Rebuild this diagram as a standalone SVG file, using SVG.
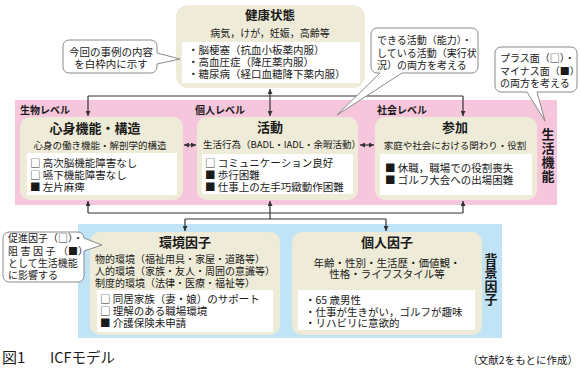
<svg xmlns="http://www.w3.org/2000/svg" width="580" height="373" viewBox="0 0 580 373">
<defs>
<style>
text{font-family:"Noto Sans CJK JP","Noto Sans",sans-serif;fill:#1a1a1a;}
.band-p{fill:#f6c7dc;}
.band-b{fill:#c0e3f5;}
.box{fill:#eeecd8;}
.wbox{fill:#ffffff;}
.title{font-size:13px;font-weight:bold;text-anchor:middle;}
.sub{font-size:9.5px;}
.item{font-size:10.5px;}
.lvl{font-size:10px;font-weight:bold;}
.vert{font-size:13px;font-weight:bold;writing-mode:vertical-rl;}
.call{fill:#fff;stroke:#8a8a8a;stroke-width:1;}
.ctext{font-size:10px;}
.conn{fill:none;stroke:#333;stroke-width:1.2;}
.mid{text-anchor:middle;}
</style>
<marker id="ah" viewBox="0 0 6 6" refX="6" refY="3" markerWidth="5" markerHeight="5" markerUnits="userSpaceOnUse" orient="auto-start-reverse">
<path d="M0,0 L6,3 L0,6 z" fill="#333"/>
</marker>
</defs>
<rect width="580" height="373" fill="#fff"/>

<!-- bands -->
<rect class="band-p" x="15" y="100" width="542" height="105"/>
<rect class="band-b" x="78" y="224" width="424" height="114"/>

<!-- level labels -->
<text class="lvl" x="20" y="114">生物レベル</text>
<text class="lvl" x="195" y="114">個人レベル</text>
<text class="lvl" x="377" y="114">社会レベル</text>

<!-- connectors -->
<g id="connectors">
<path class="conn" d="M88,96 H463"/>
<path class="conn" d="M88,96 V116" marker-end="url(#ah)"/>
<path class="conn" d="M463,96 V116" marker-end="url(#ah)"/>
<path class="conn" d="M270,89 V116" marker-start="url(#ah)" marker-end="url(#ah)"/>
<path class="conn" d="M184,145 H196" marker-start="url(#ah)" marker-end="url(#ah)"/>
<path class="conn" d="M360,145 H374" marker-start="url(#ah)" marker-end="url(#ah)"/>
<path class="conn" d="M88,213 H463"/>
<path class="conn" d="M88,213 V201" marker-end="url(#ah)"/>
<path class="conn" d="M463,213 V201" marker-end="url(#ah)"/>
<path class="conn" d="M270,219 V201" marker-end="url(#ah)"/>
<path class="conn" d="M185,219 H386"/>
<path class="conn" d="M185,219 V231" marker-end="url(#ah)"/>
<path class="conn" d="M386,219 V231" marker-end="url(#ah)"/>
</g>

<!-- health -->
<g id="health">
<rect class="box" x="176" y="5" width="189" height="83" rx="12"/>
<rect class="wbox" x="182" y="42" width="178" height="41"/>
<text class="title" x="270" y="19.5" style="font-size:12.5px">健康状態</text>
<text class="sub mid" x="270" y="37" style="font-size:10px">病気，けが，妊娠，高齢等</text>
<text class="item" x="188" y="54"><tspan x="188" y="54">・脳梗塞（抗血小板薬内服）</tspan><tspan x="188" y="66">・高血圧症（降圧薬内服）</tspan><tspan x="188" y="78">・糖尿病（経口血糖降下薬内服）</tspan></text>
</g>

<!-- body function -->
<g id="body">
<rect class="box" x="20" y="117" width="163" height="83" rx="10"/>
<rect class="wbox" x="27" y="153" width="150" height="42"/>
<text class="title" x="95" y="132.5">心身機能・構造</text>
<text class="sub mid" x="100" y="148.5">心身の働き機能・解剖学的構造</text>
<text class="item" x="30" y="167"><tspan x="30" y="167">□ 高次脳機能障害なし</tspan><tspan x="30" y="179">□ 嚥下機能障害なし</tspan><tspan x="30" y="191">■ 左片麻痺</tspan></text>
</g>

<!-- activity -->
<g id="activity">
<rect class="box" x="197" y="117" width="161" height="83" rx="10"/>
<rect class="wbox" x="202" y="154" width="151" height="40"/>
<text class="title" x="270" y="131.5">活動</text>
<text class="sub" x="203" y="147.5">生活行為（BADL・IADL・余暇活動）</text>
<text class="item" x="205" y="167"><tspan x="205" y="167">□ コミュニケーション良好</tspan><tspan x="205" y="179">■ 歩行困難</tspan><tspan x="205" y="191">■ 仕事上の左手巧緻動作困難</tspan></text>
</g>

<!-- participation -->
<g id="participation">
<rect class="box" x="375" y="117" width="162" height="83" rx="10"/>
<rect class="wbox" x="380" y="154" width="152" height="41"/>
<text class="title" x="455" y="132">参加</text>
<text class="sub mid" x="455" y="148.5">家庭や社会における関わり・役割</text>
<text class="item" x="385" y="172"><tspan x="385" y="172">■ 休職，職場での役割喪失</tspan><tspan x="385" y="184">■ ゴルフ大会への出場困難</tspan></text>
</g>

<!-- environment -->
<g id="environment">
<rect class="box" x="90" y="232" width="190" height="103" rx="10"/>
<rect class="wbox" x="97" y="290" width="176" height="42"/>
<text class="title" x="185" y="247">環境因子</text>
<text class="ctext" x="95" y="262.5"><tspan x="95" y="262.5">物的環境（福祉用具・家屋・道路等）</tspan><tspan x="95" y="275">人的環境（家族・友人・周囲の意識等）</tspan><tspan x="95" y="286.5">制度的環境（法律・医療・福祉等）</tspan></text>
<text class="item" x="100" y="303"><tspan x="100" y="303">□ 同居家族（妻・娘）のサポート</tspan><tspan x="100" y="315">□ 理解のある職場環境</tspan><tspan x="100" y="327">■ 介護保険未申請</tspan></text>
</g>

<!-- personal -->
<g id="personal">
<rect class="box" x="292" y="232" width="190" height="103" rx="10"/>
<rect class="wbox" x="298" y="290" width="177" height="40"/>
<text class="title" x="387" y="247">個人因子</text>
<text class="ctext mid" x="387" y="266.5" style="font-size:10.5px"><tspan x="387" y="266.5">年齢・性別・生活歴・価値観・</tspan><tspan x="387" y="277.5">性格・ライフスタイル等</tspan></text>
<text class="item" x="305" y="304"><tspan x="305" y="304">・65 歳男性</tspan><tspan x="305" y="316">・仕事が生きがい，ゴルフが趣味</tspan><tspan x="305" y="327">・リハビリに意欲的</tspan></text>
</g>

<!-- vertical labels -->
<text id="label-seikatsu" class="vert" x="548" y="127.5" style="letter-spacing:1px">生活機能</text>
<text id="label-haikei" class="vert" x="491" y="252.5" style="letter-spacing:0.5px">背景因子</text>

<!-- callouts -->
<g id="callout-frame">
<path class="call" d="M69,40 H151 A6,6 0 0 1 157,46 V53 L180,59 L157,64 V67 A6,6 0 0 1 151,73 H69 A6,6 0 0 1 63,67 V46 A6,6 0 0 1 69,40 Z"/>
<text class="ctext mid" x="111" y="56" style="font-size:10.5px"><tspan x="111" y="56">今回の事例の内容</tspan><tspan x="111" y="67.5">を白枠内に示す</tspan></text>
</g>
<g id="callout-activity">
<path class="call" d="M377,28 H472 A6,6 0 0 1 478,34 V67 A6,6 0 0 1 472,73 H402 L337,115 L380,73 H377 A6,6 0 0 1 371,67 V34 A6,6 0 0 1 377,28 Z"/>
<text class="ctext" x="377" y="44"><tspan x="377" y="44">できる活動（能力）・</tspan><tspan x="377" y="57">している活動（実行状</tspan><tspan x="377" y="69">況）の両方を考える</tspan></text>
</g>
<g id="callout-plusminus">
<path class="call" d="M501,47 H571 A6,6 0 0 1 577,53 V86 A6,6 0 0 1 571,92 H537 L545,121 L527,92 H501 A6,6 0 0 1 495,86 V53 A6,6 0 0 1 501,47 Z"/>
<text class="ctext" x="500" y="62"><tspan x="500" y="62">プラス面（□）・</tspan><tspan x="500" y="75">マイナス面（■）</tspan><tspan x="500" y="87">の両方を考える</tspan></text>
</g>
<g id="callout-factor">
<path class="call" d="M9,232 H78 A6,6 0 0 1 84,238 L102,245 L84,251 V276 A6,6 0 0 1 78,282 H9 A6,6 0 0 1 3,276 V238 A6,6 0 0 1 9,232 Z"/>
<text class="ctext" x="8" y="242"><tspan x="8" y="242">促進因子（□）・</tspan><tspan x="8" y="254.5" letter-spacing="2.5">阻害因子</tspan><tspan>（■）</tspan><tspan x="8" y="267">として生活機能</tspan><tspan x="8" y="279">に影響する</tspan></text>
</g>

<!-- caption -->
<text x="2" y="363" style="font-size:15px">図1</text>
<text x="50" y="363" style="font-size:14.5px">ICFモデル</text>
<text x="578" y="364" style="font-size:10.5px;text-anchor:end">（文献2をもとに作成）</text>
</svg>
